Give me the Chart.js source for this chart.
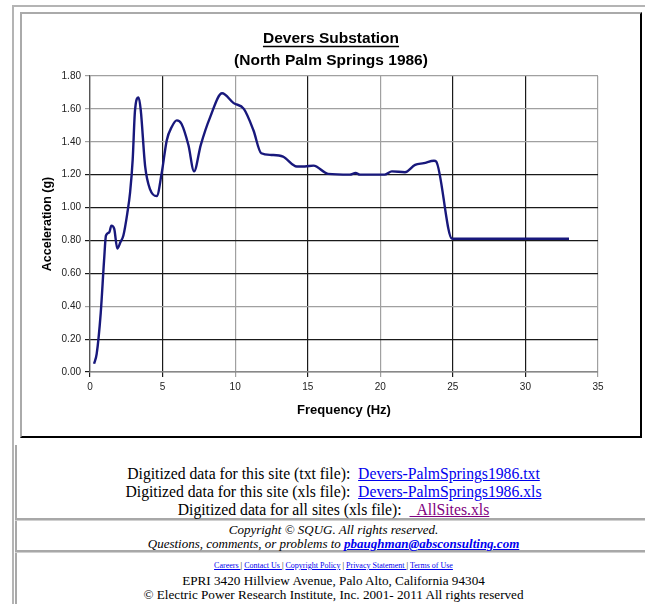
<!DOCTYPE html>
<html>
<head>
<meta charset="utf-8">
<script src="https://cdn.jsdelivr.net/npm/chart.js@4/dist/chart.umd.min.js"></script>
<style>
  html, body { margin:0; padding:0; background:#fff; width:645px; height:604px; overflow:hidden; }
  .outer { position:absolute; left:12px; top:5px; width:700px; height:700px; border-left:2px solid #b4b4b4; border-top:2px solid #b4b4b4; }
  .chartbox { position:absolute; left:20px; top:12px; width:618px; height:422px; border-style:solid; border-width:2px 2px 2px 2px; border-color:#aaaaaa #000 #000 #aaaaaa; background:#fff; }
  .chartbox canvas { position:absolute; left:0; top:0; }
  .vline { position:absolute; left:15px; top:445px; width:2px; height:170px; background:#a8a8a8; }
  .hsep { position:absolute; left:15px; width:640px; height:2px; background:#a8a8a8; border-bottom:1px solid #d0d0d0; }
  .txt { position:absolute; left:17px; width:633px; text-align:center; font-family:"Liberation Serif","Times New Roman",serif; color:#000; }
  .links { top:465px; font-size:15.7px; line-height:18px; }
  .links a { color:#0000ee; text-decoration:underline; }
  .links a.v { color:#800080; }
  .copy { top:523px; font-size:13px; line-height:14px; font-style:italic; }
  .copy a { color:#0000ee; font-weight:bold; }
  .foot { top:557px; font-size:13.2px; line-height:14.5px; }
  .foot .small { font-size:8px; }
  .foot .small a { color:#0000ee; }
</style>
</head>
<body>
<div class="outer"></div>
<div class="chartbox"><canvas id="c" width="618" height="422"></canvas></div>
<div class="vline"></div>
<div class="hsep" style="top:518px"></div>
<div class="hsep" style="top:550px"></div>
<div class="txt links">
  Digitized data for this site (txt file):&nbsp; <a href="#">Devers-PalmSprings1986.txt</a><br>
  Digitized data for this site (xls file):&nbsp; <a href="#">Devers-PalmSprings1986.xls</a><br>
  Digitized data for all sites (xls file):&nbsp; <a class="v" href="#">&nbsp; AllSites.xls</a>
</div>
<div class="txt copy">
  Copyright © SQUG. All rights reserved.<br>
  Questions, comments, or problems to <a href="#">pbaughman@absconsulting.com</a>
</div>
<div class="txt foot">
  <span class="small"><a href="#">Careers </a> | <a href="#">Contact Us </a> | <a href="#">Copyright Policy</a> | <a href="#">Privacy Statement </a> | <a href="#">Terms of Use</a></span><br>
  EPRI 3420 Hillview Avenue, Palo Alto, California 94304<br>
  © Electric Power Research Institute, Inc. 2001- 2011 All rights reserved
</div>
<script>
// Data
const frequencyHz = [0.28, 0.46, 0.74, 0.97, 1.1, 1.33, 1.47, 1.67, 1.88, 2.1, 2.3, 2.57, 2.76, 2.94, 3.1, 3.35, 3.5, 3.8, 4.14, 4.6, 4.94, 5.29, 5.63, 5.98, 6.3, 6.78, 7.17, 7.63, 8.28, 9.1, 9.9, 10.6, 11.26, 11.8, 12.5, 13.3, 14.25, 14.8, 15.4, 16.4, 17.9, 18.3, 18.6, 20.3, 20.8, 21.7, 22.4, 23.0, 23.7, 23.85, 24.95, 33.0];
const accelerationG = [0.05, 0.11, 0.36, 0.68, 0.83, 0.85, 0.89, 0.87, 0.75, 0.79, 0.83, 0.965, 1.09, 1.29, 1.59, 1.67, 1.59, 1.25, 1.11, 1.07, 1.21, 1.41, 1.49, 1.53, 1.51, 1.38, 1.22, 1.38, 1.55, 1.695, 1.635, 1.60, 1.47, 1.33, 1.32, 1.31, 1.25, 1.25, 1.255, 1.205, 1.20, 1.21, 1.20, 1.20, 1.22, 1.215, 1.26, 1.27, 1.285, 1.28, 0.81, 0.81];
const xTicks = [0, 5, 10, 15, 20, 25, 30, 35];
const yTicks = [0, 0.2, 0.4, 0.6, 0.8, 1.0, 1.2, 1.4, 1.6, 1.8];
const titleText = 'Devers Substation';
const subtitleText = '(North Palm Springs 1986)';
const xTitle = 'Frequency (Hz)';
const yTitle = 'Acceleration (g)';

const points = frequencyHz.map((f, i) => ({ x: f, y: accelerationG[i] }));

const lightY = [1.8, 1.6, 1.4, 0.4];
const lightX = [10, 20, 35];
const FONT = 'Liberation Sans, Arial, sans-serif';

const underlinePlugin = {
  id: 'titleUnderline',
  afterDraw(chart) {
    const tb = chart.titleBlock;
    if (!tb) return;
    const ctx = chart.ctx;
    const opts = chart.options.plugins.title;
    ctx.save();
    ctx.font = 'bold ' + opts.font.size + 'px ' + opts.font.family;
    const w = ctx.measureText(titleText).width;
    const cx = (tb.left + tb.right) / 2;
    const cy = tb.top + opts.padding.top + opts.font.size * 1.2 / 2;
    const y = Math.round(cy + opts.font.size * 0.5) + 0.5;
    ctx.strokeStyle = '#000';
    ctx.lineWidth = 1.3;
    ctx.beginPath();
    ctx.moveTo(cx - w / 2, y);
    ctx.lineTo(cx + w / 2, y);
    ctx.stroke();
    ctx.restore();
  }
};

new Chart(document.getElementById('c'), {
  type: 'line',
  data: {
    datasets: [{
      data: points,
      borderColor: '#18187c',
      borderWidth: 2.4,
      pointRadius: 0,
      fill: false,
      cubicInterpolationMode: 'monotone'
    }]
  },
  options: {
    responsive: false,
    animation: false,
    layout: { padding: { left: 18, right: 18, top: 0, bottom: 16 } },
    plugins: {
      legend: { display: false },
      tooltip: { enabled: false },
      title: {
        display: true, text: titleText, color: '#000',
        font: { family: FONT, size: 15.5, weight: 'bold' },
        padding: { top: 15, bottom: 4 }
      },
      subtitle: {
        display: true, text: subtitleText, color: '#000',
        font: { family: FONT, size: 15.5, weight: 'bold' },
        padding: { top: 0, bottom: 5.8 }
      }
    },
    scales: {
      x: {
        type: 'linear', min: 0, max: 35,
        afterBuildTicks(s) { s.ticks = xTicks.map(v => ({ value: v })); },
        afterFit(s) { s.height = 48; },
        ticks: { color: '#222', font: { family: FONT, size: 10 }, padding: 4, maxRotation: 0, callback: v => String(v) },
        grid: {
          color: c => lightX.includes(c.tick.value) ? '#a0a0a0' : '#1a1a1a',
          lineWidth: 1.2, tickLength: 5
        },
        border: { color: '#888', width: 1.2 },
        title: { display: true, text: xTitle, color: '#000', font: { family: FONT, size: 13, weight: 'bold' }, padding: { top: 4, bottom: 2 } }
      },
      y: {
        type: 'linear', min: 0, max: 1.8,
        afterBuildTicks(s) { s.ticks = yTicks.map(v => ({ value: v })); },
        afterFit(s) { s.width = 50; },
        ticks: { color: '#222', font: { family: FONT, size: 10 }, padding: 4, callback: v => Number(v).toFixed(2) },
        grid: {
          color: c => lightY.some(v => Math.abs(v - c.tick.value) < 1e-6) ? '#a0a0a0' : '#1a1a1a',
          lineWidth: 1.2, tickLength: 5
        },
        border: { color: '#555', width: 1.2 },
        title: { display: true, text: yTitle, color: '#000', font: { family: FONT, size: 12.5, weight: 'bold' }, padding: { top: 0, bottom: 0 } }
      },
      yRight: {
        type: 'linear', position: 'right', min: 0, max: 1.8,
        afterFit(s) { s.width = 24; },
        ticks: { display: false },
        grid: { display: false, drawTicks: false },
        border: { display: false }
      }
    }
  },
  plugins: [underlinePlugin]
});
</script>
</body>
</html>
